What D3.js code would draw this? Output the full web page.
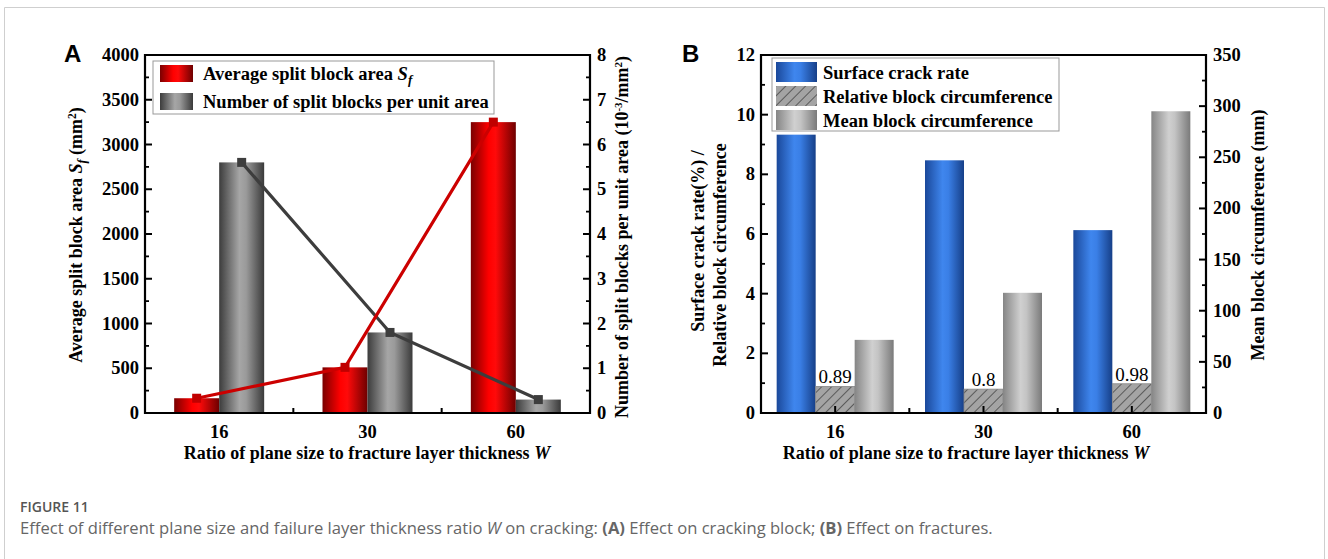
<!DOCTYPE html>
<html>
<head>
<meta charset="utf-8">
<script src="https://cdn.jsdelivr.net/npm/d3@7"></script>
<style>
  body { margin: 0; background: #fff; }
  svg { display: block; }
  .tick-label { font-family: "Liberation Serif", "Times New Roman", serif; font-weight: bold; font-size: 18.5px; }
  .title { font-family: "Liberation Serif", "Times New Roman", serif; font-weight: bold; font-size: 18px; }
  .legend { font-family: "Liberation Serif", "Times New Roman", serif; font-weight: bold; font-size: 18.5px; }
</style>
</head>
<body>
<div id="main"></div>
<script>
const categories = ['16', '30', '60'];
// panel A
const avgArea = [165, 510, 3250];          // mm^2, left axis
const blocksPerArea = [5.6, 1.8, 0.3];     // 10^-3/mm^2, right axis
const areaTicks = d3.range(0, 4001, 500);
const countTicks = d3.range(0, 9, 1);
// panel B
const crackRate = [9.33, 8.47, 6.13];      // %, left axis
const relCirc = [0.89, 0.8, 0.98];         // left axis
const meanCirc = [71.5, 117.5, 295];       // mm, right axis
const rateTicks = d3.range(0, 13, 2);
const circTicks = d3.range(0, 351, 50);

const width = 1328, height = 559;
const svg = d3.select('#main').append('svg').attr('width', width).attr('height', height);
const defs = svg.append('defs');

function gradient(id, stops) {
  const g = defs.append('linearGradient').attr('id', id)
    .attr('x1', 0).attr('x2', 1).attr('y1', 0).attr('y2', 0);
  stops.forEach(([o, c]) => g.append('stop').attr('offset', o).attr('stop-color', c));
}
gradient('gRed', [[0, '#7a0000'], [0.4, '#ff0000'], [0.55, '#ff0a0a'], [1, '#6e0000']]);
gradient('gGray', [[0, '#3c3c3c'], [0.45, '#a6a6a6'], [0.6, '#9a9a9a'], [1, '#3a3a3a']]);
gradient('gBlue', [[0, '#1a489a'], [0.45, '#3f86ee'], [0.6, '#3a7fe6'], [1, '#163f88']]);
gradient('gLight', [[0, '#858585'], [0.45, '#d0d0d0'], [0.6, '#c4c4c4'], [1, '#7a7a7a']]);
const hatch = defs.append('pattern').attr('id', 'hatch').attr('patternUnits', 'userSpaceOnUse')
  .attr('width', 7).attr('height', 7).attr('patternTransform', 'rotate(45)');
hatch.append('rect').attr('width', 7).attr('height', 7).attr('fill', '#a4a4a4');
hatch.append('line').attr('x1', 0).attr('y1', 0).attr('x2', 0).attr('y2', 7)
  .attr('stroke', '#3a3a3a').attr('stroke-width', 1.4);

// outer figure border
svg.append('path').attr('d', 'M4.5,' + (height + 2) + 'V7.5H1324.5V' + (height + 2))
  .attr('fill', 'none').attr('stroke', '#cfcfcf');

const plotTop = 55, plotBottom = 413;

function frame(g, x0, x1, yL, yR, lTicks, rTicks, lMinor, rMinor, xBand) {
  g.append('path').attr('d', `M${x0},${plotBottom}V${plotTop}H${x1}V${plotBottom}Z`)
    .attr('fill', 'none').attr('stroke', '#000').attr('stroke-width', 2.2);
  lMinor.forEach((v) => g.append('line').attr('x1', x0).attr('x2', x0 + 4)
    .attr('y1', yL(v)).attr('y2', yL(v)).attr('stroke', '#000').attr('stroke-width', 1.8));
  lTicks.forEach((v) => {
    g.append('line').attr('x1', x0).attr('x2', x0 + 7).attr('y1', yL(v)).attr('y2', yL(v))
      .attr('stroke', '#000').attr('stroke-width', 2);
    g.append('text').attr('class', 'tick-label').attr('x', x0 - 6).attr('y', yL(v) + 6)
      .attr('text-anchor', 'end').text(v);
  });
  rMinor.forEach((v) => g.append('line').attr('x1', x1).attr('x2', x1 - 4)
    .attr('y1', yR(v)).attr('y2', yR(v)).attr('stroke', '#000').attr('stroke-width', 1.8));
  rTicks.forEach((v) => {
    g.append('line').attr('x1', x1).attr('x2', x1 - 7).attr('y1', yR(v)).attr('y2', yR(v))
      .attr('stroke', '#000').attr('stroke-width', 2);
    g.append('text').attr('class', 'tick-label').attr('x', x1 + 7).attr('y', yR(v) + 6)
      .attr('text-anchor', 'start').text(v);
  });
  const bw = xBand.bandwidth();
  categories.forEach((c, i) => {
    const cx = xBand(c) + bw / 2;
    g.append('text').attr('class', 'tick-label').attr('x', cx).attr('y', plotBottom + 25)
      .attr('text-anchor', 'middle').text(c);
    if (i > 0) g.append('line').attr('x1', xBand(c)).attr('x2', xBand(c))
      .attr('y1', plotBottom).attr('y2', plotBottom - 5).attr('stroke', '#000').attr('stroke-width', 2);
  });
}

function xTitle(g, cx) {
  const t = g.append('text').attr('class', 'title').attr('x', cx).attr('y', plotBottom + 46)
    .attr('text-anchor', 'middle').attr('font-size', 18.8);
  t.append('tspan').text('Ratio of plane size to fracture layer thickness ');
  t.append('tspan').attr('font-style', 'italic').text('W');
}

// ---------------- Panel A ----------------
const gA = svg.append('g');
const xA = d3.scaleBand().domain(categories).range([145, 590]);
const yA = d3.scaleLinear().domain([0, 4000]).range([plotBottom, plotTop]);
const yA2 = d3.scaleLinear().domain([0, 8]).range([plotBottom, plotTop]);
const bwA = 45;
const cA = (c) => xA(c) + xA.bandwidth() / 2;

gA.selectAll('.barRed').data(avgArea).enter().append('rect')
  .attr('x', (d, i) => cA(categories[i]) - bwA).attr('width', bwA)
  .attr('y', (d) => yA(d)).attr('height', (d) => plotBottom - yA(d)).attr('fill', 'url(#gRed)');
gA.selectAll('.barGray').data(blocksPerArea).enter().append('rect')
  .attr('x', (d, i) => cA(categories[i])).attr('width', bwA)
  .attr('y', (d) => yA2(d)).attr('height', (d) => plotBottom - yA2(d)).attr('fill', 'url(#gGray)');

const lineRed = d3.line().x((d, i) => cA(categories[i]) - bwA / 2).y((d) => yA(d));
const lineGray = d3.line().x((d, i) => cA(categories[i]) + bwA / 2).y((d) => yA2(d));
gA.append('path').attr('d', lineGray(blocksPerArea)).attr('fill', 'none')
  .attr('stroke', '#3d3d3d').attr('stroke-width', 3.2);
gA.append('path').attr('d', lineRed(avgArea)).attr('fill', 'none')
  .attr('stroke', '#cc0000').attr('stroke-width', 3.2);
gA.selectAll('.mGray').data(blocksPerArea).enter().append('rect')
  .attr('x', (d, i) => cA(categories[i]) + bwA / 2 - 4.5).attr('y', (d) => yA2(d) - 4.5)
  .attr('width', 9).attr('height', 9).attr('fill', '#3d3d3d');
gA.selectAll('.mRed').data(avgArea).enter().append('rect')
  .attr('x', (d, i) => cA(categories[i]) - bwA / 2 - 4.5).attr('y', (d) => yA(d) - 4.5)
  .attr('width', 9).attr('height', 9).attr('fill', '#c00000');

frame(gA, 145, 590, yA, yA2, areaTicks, countTicks,
  d3.range(250, 4000, 500), d3.range(0.5, 8, 1), xA);
xTitle(gA, 367);

// legend A
gA.append('rect').attr('x', 153).attr('y', 61).attr('width', 341).attr('height', 53)
  .attr('fill', '#fff').attr('stroke', '#999').attr('stroke-width', 1);
gA.append('rect').attr('x', 160).attr('y', 65).attr('width', 33).attr('height', 17).attr('fill', 'url(#gRed)');
gA.append('rect').attr('x', 160).attr('y', 93).attr('width', 33).attr('height', 17).attr('fill', 'url(#gGray)');
const lA1 = gA.append('text').attr('class', 'legend').attr('x', 203).attr('y', 80);
lA1.append('tspan').text('Average split block area ');
lA1.append('tspan').attr('font-style', 'italic').text('S');
lA1.append('tspan').attr('font-style', 'italic').attr('font-size', 13).attr('dy', 4).text('f');
gA.append('text').attr('class', 'legend').attr('x', 203).attr('y', 108)
  .text('Number of split blocks per unit area');

// axis titles A
const tAL = gA.append('text').attr('class', 'title').attr('text-anchor', 'middle')
  .attr('transform', 'translate(82,235) rotate(-90)');
tAL.append('tspan').text('Average split block area ');
tAL.append('tspan').attr('font-style', 'italic').text('S');
tAL.append('tspan').attr('font-style', 'italic').attr('font-size', 12.5).attr('dy', 4).text('f');
tAL.append('tspan').attr('dy', -4).text(' (mm');
tAL.append('tspan').attr('font-size', 11.5).attr('dy', -6).text('2');
tAL.append('tspan').attr('dy', 6).text(')');

const tAR = gA.append('text').attr('class', 'title').attr('text-anchor', 'middle')
  .attr('font-size', 17).attr('transform', 'translate(628,237) rotate(-90)');
tAR.append('tspan').text('Number of split blocks per unit area (10');
tAR.append('tspan').attr('font-size', 11).attr('dy', -6).text('-3');
tAR.append('tspan').attr('dy', 6).text('/mm');
tAR.append('tspan').attr('font-size', 11).attr('dy', -6).text('2');
tAR.append('tspan').attr('dy', 6).text(')');

gA.append('text').attr('x', 64).attr('y', 62).attr('font-family', 'Liberation Sans, Arial, sans-serif')
  .attr('font-weight', 'bold').attr('font-size', 24).text('A');

// ---------------- Panel B ----------------
const gB = svg.append('g');
const xB = d3.scaleBand().domain(categories).range([761, 1206]);
const yB = d3.scaleLinear().domain([0, 12]).range([plotBottom, plotTop]);
const yB2 = d3.scaleLinear().domain([0, 350]).range([plotBottom, plotTop]);
const bwB = 39;
const cB = (c) => xB(c) + xB.bandwidth() / 2;

gB.selectAll('.barBlue').data(crackRate).enter().append('rect')
  .attr('x', (d, i) => cB(categories[i]) - bwB * 1.5).attr('width', bwB)
  .attr('y', (d) => yB(d)).attr('height', (d) => plotBottom - yB(d)).attr('fill', 'url(#gBlue)');
gB.selectAll('.barHatch').data(relCirc).enter().append('rect')
  .attr('x', (d, i) => cB(categories[i]) - bwB / 2).attr('width', bwB)
  .attr('y', (d) => yB(d)).attr('height', (d) => plotBottom - yB(d)).attr('fill', 'url(#hatch)')
  .attr('stroke', '#888').attr('stroke-width', 0.8);
gB.selectAll('.barLight').data(meanCirc).enter().append('rect')
  .attr('x', (d, i) => cB(categories[i]) + bwB / 2).attr('width', bwB)
  .attr('y', (d) => yB2(d)).attr('height', (d) => plotBottom - yB2(d)).attr('fill', 'url(#gLight)');
gB.selectAll('.valLabel').data(relCirc).enter().append('text')
  .attr('x', (d, i) => cB(categories[i])).attr('y', (d) => yB(d) - 3)
  .attr('text-anchor', 'middle').attr('font-family', 'Liberation Serif, Times New Roman, serif')
  .attr('font-size', 19).text((d) => d);

frame(gB, 761, 1206, yB, yB2, rateTicks, circTicks,
  d3.range(1, 12, 2), d3.range(25, 350, 50), xB);
categories.forEach((c) => gB.append('line').attr('x1', cB(c)).attr('x2', cB(c))
  .attr('y1', plotBottom).attr('y2', plotBottom - 7).attr('stroke', '#000').attr('stroke-width', 2));
xTitle(gB, 966);

// legend B
gB.append('rect').attr('x', 772).attr('y', 58).attr('width', 287).attr('height', 73)
  .attr('fill', '#fff').attr('stroke', '#999').attr('stroke-width', 1);
[['url(#gBlue)', 'Surface crack rate'], ['url(#hatch)', 'Relative block circumference'],
  ['url(#gLight)', 'Mean block circumference']].forEach(([f, t], i) => {
  gB.append('rect').attr('x', 776).attr('y', 62 + i * 24).attr('width', 41).attr('height', 20).attr('fill', f);
  gB.append('text').attr('class', 'legend').attr('x', 823).attr('y', 78.5 + i * 24).text(t);
});

gB.append('text').attr('class', 'title').attr('text-anchor', 'middle')
  .attr('transform', 'translate(704,241) rotate(-90)').text('Surface crack rate(%) /');
gB.append('text').attr('class', 'title').attr('text-anchor', 'middle')
  .attr('transform', 'translate(726,255) rotate(-90)').text('Relative block circumference');
gB.append('text').attr('class', 'title').attr('text-anchor', 'middle')
  .attr('transform', 'translate(1264,235) rotate(-90)').text('Mean block circumference (mm)');

gB.append('text').attr('x', 682).attr('y', 62).attr('font-family', 'Liberation Sans, Arial, sans-serif')
  .attr('font-weight', 'bold').attr('font-size', 24).text('B');

// caption
svg.append('text').attr('x', 20).attr('y', 512).attr('font-family', 'Open Sans, sans-serif')
  .attr('font-size', 14).attr('font-weight', 600).attr('fill', '#555').text('FIGURE 11');
const cap = svg.append('text').attr('x', 20).attr('y', 534).attr('font-family', 'Open Sans, sans-serif')
  .attr('font-size', 16.6).attr('fill', '#666');
cap.append('tspan').text('Effect of different plane size and failure layer thickness ratio ');
cap.append('tspan').attr('font-style', 'italic').text('W');
cap.append('tspan').text(' on cracking: ');
cap.append('tspan').attr('font-weight', 'bold').text('(A)');
cap.append('tspan').text(' Effect on cracking block; ');
cap.append('tspan').attr('font-weight', 'bold').text('(B)');
cap.append('tspan').text(' Effect on fractures.');
</script>
</body>
</html>
